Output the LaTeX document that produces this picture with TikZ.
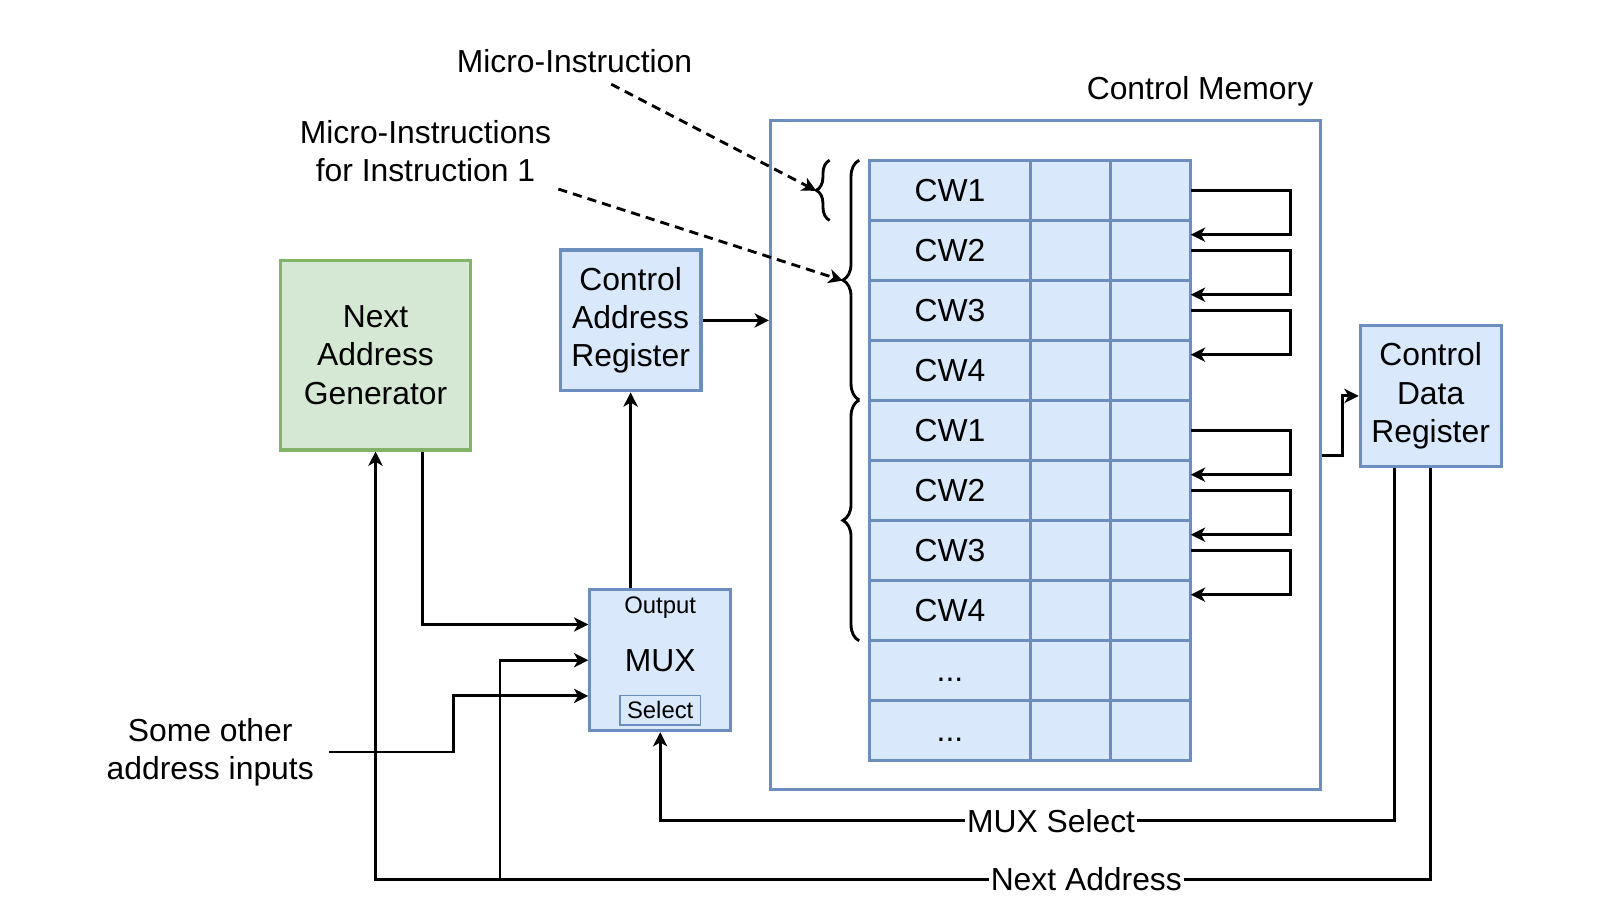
\documentclass[tikz,border=0pt]{standalone}
\usepackage{fontspec}
\setmainfont{Liberation Sans}
\usetikzlibrary{positioning, arrows.meta, decorations.pathreplacing}
\definecolor{cmfill}{HTML}{DAE8FC}
\definecolor{cmline}{HTML}{6C8EBF}
\definecolor{gfill}{HTML}{D5E8D4}
\definecolor{gline}{HTML}{82B366}
\newcommand{\cwdots}{...}

\begin{document}
\begin{tikzpicture}[
    x=0.5pt, y=-0.5pt,
    every node/.style={font=\fontsize{15.6}{18.75}\selectfont, align=center},
    block/.style={draw=cmline, fill=cmfill, line width=1.5pt, minimum width=69pt, minimum height=69pt, inner sep=2pt},
    gblock/.style={block, draw=gline, fill=gfill, minimum width=93pt, minimum height=93pt},
    frame/.style={draw=cmline, line width=1.5pt, minimum width=269.5pt, minimum height=328pt},
    cell/.style={draw=cmline, fill=cmfill, line width=1.5pt, minimum height=29.4pt, inner sep=0pt, outer sep=0pt},
    small/.style={font=\fontsize{11.7}{14}\selectfont},
    selbox/.style={draw=cmline, line width=0.6pt, minimum width=39.5pt, minimum height=14.5pt, inner sep=1pt},
    arrow/.style={-{Stealth[length=7pt, width=7pt, inset=2pt]}, line width=1.4pt},
    dasharrow/.style={arrow, dash pattern=on 4.5pt off 3pt},
    curly/.style={decorate, decoration={brace, amplitude=#1}, line width=1.4pt},
    tag/.style={fill=white, inner sep=1pt}
]
\useasboundingbox (0,0) rectangle (1568,882);

% texts
\node (mi) at (563,60) {Micro-Instruction};
\node (mis) at (417,148) {Micro-Instructions\\for Instruction 1};
\node (cml) at (1176,89) {Control Memory};
\node (other) at (206,737) {Some other\\address inputs};

% boxes
\node[gblock] (nag) at (368,348) {Next\\Address\\Generator};
\node[block] (car) at (618,314) {Control\\Address\\Register};
\node[block] (mux) at (647,647) {MUX};
\node[small] (out) at (647,595) {Output};
\node[selbox, small] (sel) at (647,696) {Select};
\node[block] (cdr) at (1402,388) {Control\\Data\\Register};

% control memory
\node[frame] (cm) at (1024.5,446) {};
\foreach \t [count=\i] in {CW1,CW2,CW3,CW4,CW1,CW2,CW3,CW4,\cwdots,\cwdots} {
    \node[cell, minimum width=79pt] (a\i) at (931, 127.6+58.8*\i) {\vphantom{CW}\t};
    \node[cell, minimum width=39pt, right=0pt of a\i] (b\i) {};
    \node[cell, minimum width=39.5pt, right=0pt of b\i] (c\i) {};
}
\foreach \i in {1,2,3,5,6,7} {
    \pgfmathtruncatemacro{\j}{\i+1}
    \draw[arrow] (c\i.east) -- ++(98,0) |- ([yshift=7.6pt]c\j.east);
}

% braces
\coordinate (tip0) at (800,187);
\coordinate (tip1) at (826,275);
\draw[curly=6.5pt] (813,216) -- (813,157);
\draw[curly=8pt] (842,392) -- (842,157);
\draw[curly=8pt] (842,628) -- (842,392);
\draw[dasharrow] ([xshift=18pt,yshift=-2pt]mi.south) -- (tip0);
\draw[dasharrow] (mis.south east) -- (tip1);

% connections
\coordinate (jn) at (490,862);
\draw[arrow] (car.east) -- (car.east -| cm.west);
\draw[arrow] (mux.north -| car.south) -- (car.south);
\draw[arrow] (cm.east) -- ++(20,0) |- (cdr.west);
\draw[arrow] ([xshift=23pt]nag.south) |- ([yshift=17.5pt]mux.west);
\draw[arrow] (jn) |- (mux.west);
\draw[arrow] ([xshift=4pt]other.east) -| ([xshift=-66pt,yshift=-17.5pt]mux.west) -- ([yshift=-17.5pt]mux.west);
\draw[arrow] ([xshift=-17.5pt]cdr.south) -- ++(0,346) -| node[tag, pos=0.234] {MUX Select} (mux.south);
\draw[arrow] (cdr.south) |- node[tag, pos=0.685] {Next Address} (jn) -| (nag.south);
\end{tikzpicture}
\end{document}
